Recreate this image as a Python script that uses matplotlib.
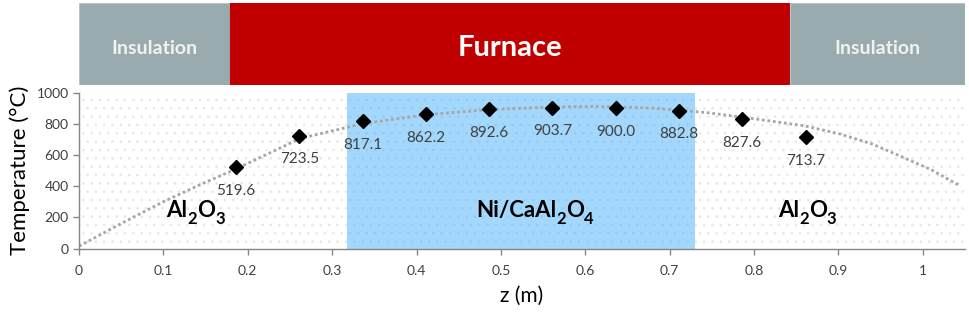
import matplotlib
matplotlib.use("Agg")
import matplotlib.pyplot as plt
from matplotlib.patches import Rectangle
from matplotlib.transforms import offset_copy

plt.rcParams['font.family'] = ['Lato', 'DejaVu Sans']
plt.rcParams['hatch.linewidth'] = 0.6

# ---- data ----
z_meas = [0.186, 0.261, 0.336, 0.411, 0.486, 0.561, 0.636, 0.711, 0.786, 0.861]
T_meas = [519.6, 723.5, 817.1, 862.2, 892.6, 903.7, 900.0, 882.8, 827.6, 713.7]

z_curve = [0.000, 0.050, 0.100, 0.150, 0.186, 0.262, 0.336, 0.411, 0.486,
           0.560, 0.617, 0.680, 0.743, 0.805, 0.860, 0.902, 0.940, 0.972, 1.010, 1.042]
T_curve = [15, 160, 300, 425, 510, 705, 800, 858, 890,
           907, 911, 900, 872, 828, 786, 734, 670, 595, 505, 408]

zones = [("Insulation", 0.0, 0.179, '#9aabaf'),
         ("Furnace", 0.179, 0.843, '#c00000'),
         ("Insulation", 0.843, 1.05, '#9aabaf')]
catalyst_bed = (0.318, 0.730)
# formulas as (text, is_subscript) pieces
materials = [([("Al", False), ("2", True), ("O", False), ("3", True)], 0.138),
             ([("Ni/CaAl", False), ("2", True), ("O", False), ("4", True)], 0.540),
             ([("Al", False), ("2", True), ("O", False), ("3", True)], 0.863)]
xticks = [0, 0.1, 0.2, 0.3, 0.4, 0.5, 0.6, 0.7, 0.8, 0.9, 1]
xticklabels = ['0', '0.1', '0.2', '0.3', '0.4', '0.5', '0.6', '0.7', '0.8', '0.9', '1']
yticks = [0, 200, 400, 600, 800, 1000]

fig = plt.figure(figsize=(9.69, 3.15), dpi=100)

# ---- top zone bar ----
axb = fig.add_axes([79/969, (315-85)/315, (965-79)/969, 82/315])
axb.set_xlim(0, 1.05)
axb.set_ylim(0, 1)
axb.axis('off')
for name, a, b, c in zones:
    axb.add_patch(Rectangle((a, 0), b - a, 1, facecolor=c,
                            edgecolor='#b8c4c6' if name == 'Insulation' else c, lw=0.8))
    if name == 'Furnace':
        axb.text((a + b) / 2, 0.45, name, color='white', fontsize=21, fontweight='bold',
                 ha='center', va='center')
    else:
        axb.text((a + b) / 2, 0.45, name, color='#f2f2f2', fontsize=14, fontweight='bold',
                 ha='center', va='center')

# ---- main axes ----
ax = fig.add_axes([79/969, (315-248.5)/315, (965-79)/969, 156/315])
ax.set_xlim(0, 1.05)
ax.set_ylim(0, 1000)
ax.add_patch(Rectangle((0, 0), 1.05, 1000, facecolor='white', edgecolor='#e6e6e6',
                       hatch='..', lw=0, zorder=0))
ax.add_patch(Rectangle((catalyst_bed[0], 0), catalyst_bed[1] - catalyst_bed[0], 1000,
                       facecolor='#a3d7fb', edgecolor='#92cbf1', hatch='..', lw=0, zorder=0.5))

ax.plot(z_curve, T_curve, color='#a6a6a6', lw=2.0, linestyle=(0, (1, 1)), zorder=2)
ax.plot(z_meas, T_meas, linestyle='none', marker='D', color='black', markersize=7.5, zorder=3)
for zz, tt in zip(z_meas, T_meas):
    ax.annotate(f"{tt:.1f}", (zz, tt), xytext=(0, -17), textcoords='offset points',
                ha='center', va='center', fontsize=11, color='#404040')

for s in ['top', 'right']:
    ax.spines[s].set_visible(False)
for s in ['left', 'bottom']:
    ax.spines[s].set_color('#868686')
    ax.spines[s].set_linewidth(1.0)
ax.set_xticks(xticks)
ax.set_xticklabels(xticklabels)
ax.set_yticks(yticks)
ax.tick_params(axis='both', colors='#868686', labelcolor='#404040', labelsize=10, length=4, width=1)
ax.tick_params(axis='x', pad=8)
ax.set_xlabel("z (m)", fontsize=15, color='black', labelpad=6)
ax.set_ylabel("Temperature (°C)", fontsize=16, color='black', labelpad=5)

# ---- chemical formula labels with real subscripts ----
fig.canvas.draw()
renderer = fig.canvas.get_renderer()
main_size, sub_size = 16, 12
for pieces, zc in materials:
    widths = []
    for txt, sub in pieces:
        t = fig.text(0, 0, txt, fontsize=sub_size if sub else main_size, fontweight='bold')
        widths.append(t.get_window_extent(renderer).width)
        t.remove()
    total = sum(widths)
    x_off = -total / 2
    for (txt, sub), w in zip(pieces, widths):
        tr = offset_copy(ax.transData, fig=fig, x=x_off * 72 / fig.dpi,
                         y=(-4.5 if sub else 0), units='points')
        ax.text(zc, 200, txt, transform=tr, fontsize=sub_size if sub else main_size,
                fontweight='bold', color='black', ha='left', va='baseline')
        x_off += w

fig.savefig("out.png", dpi=100)
